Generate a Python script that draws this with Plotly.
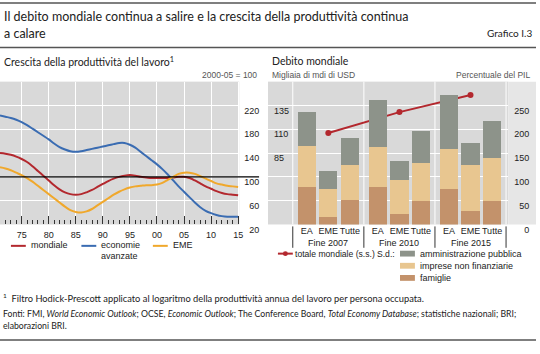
import plotly.graph_objects as go

W, H = 540, 354
def px(x): return x / W
def py(y): return 1 - y / H

# ---------------- data ----------------
years = list(range(1971, 2016))
mondiale = [140, 139, 137, 134, 130, 125, 118, 110, 102, 94,
            86, 79, 74, 71, 70, 71, 74, 78, 83, 88,
            93, 97, 100, 102, 103, 102, 100, 99, 98, 98,
            98, 98, 99, 100, 100, 98, 94, 89, 84, 80,
            76, 73, 71, 70, 69]
avanzate = [203, 201, 199, 196, 192, 187, 181, 175, 169, 163,
            156, 150, 146, 143, 142, 143, 145, 147, 149, 151,
            153, 155, 157, 157, 154, 149, 142, 135, 128, 121,
            113, 104, 94, 84, 75, 66, 57, 49, 43, 39,
            36, 34, 33, 33, 33]
eme = [116, 114, 111, 107, 103, 98, 92, 85, 78, 71,
       64, 57, 50, 44, 41, 40, 42, 46, 52, 58,
       64, 70, 75, 79, 82, 84, 85, 86, 86, 87,
       90, 95, 100, 105, 107, 107, 105, 101, 97, 93,
       89, 87, 85, 84, 83]
year_ticks = [1975, 1980, 1985, 1990, 1995, 2000, 2005, 2010, 2015]
year_labels = ["75", "80", "85", "90", "95", "00", "05", "10", "15"]
left_yticks = [20, 60, 100, 140, 180, 220]

groups = ["Fine 2007", "Fine 2010", "Fine 2015"]
subcats = ["EA", "EME", "Tutte"]
famiglie = [80, 17, 53, 80, 22, 51, 75, 30, 50]
imprese = [85, 59, 72, 84, 73, 79, 84, 96, 90]
amministrazione = [71, 38, 57, 98, 40, 68, 114, 46, 78]
totale_mondiale = [106, 128, 146]
debt_left_ticks = [85, 110, 135]
debt_right_ticks = [0, 50, 100, 150, 200, 250]

# ---------------- styles ----------------
C_RED, C_BLUE, C_YEL = "#b3282e", "#3a6cb2", "#f0a82c"
C_GOV, C_IMP, C_FAM = "#8d938a", "#e8c690", "#c3926b"
BG = "#d9d9d9"
TXT = "#222222"
TF = "Liberation Sans, Arial, sans-serif"
HF = "Lato, Open Sans, sans-serif"
FS = "\u2007"  # figure space, used to right-align tick labels

def rpad(vals, n=3):
    return [FS * (n - len(str(v))) + str(v) for v in vals]

GAP = 3.3
pos = [g * GAP + i for g in range(len(groups)) for i in range(len(subcats))]
sub_labels = [s for g in groups for s in subcats]
line_x = [g * GAP + 1 for g in range(len(groups))]
seps = [-0.65] + [g * GAP + 2.65 for g in range(len(groups))]

fig = go.Figure()

# left panel lines
for vals, col in [(mondiale, C_RED), (avanzate, C_BLUE), (eme, C_YEL)]:
    fig.add_trace(go.Scatter(x=years, y=vals, mode="lines",
                             line=dict(color=col, width=2, shape="spline"),
                             xaxis="x", yaxis="y", showlegend=False))

# right panel bars
for vals, col in [(famiglie, C_FAM), (imprese, C_IMP), (amministrazione, C_GOV)]:
    fig.add_trace(go.Bar(x=pos, y=vals, marker=dict(color=col, line=dict(width=0)),
                         width=0.85, xaxis="x2", yaxis="y3", showlegend=False))

fig.add_trace(go.Scatter(x=line_x, y=totale_mondiale, mode="lines+markers",
                         line=dict(color=C_RED, width=2),
                         marker=dict(color=C_RED, size=6),
                         xaxis="x2", yaxis="y2", showlegend=False))

top, bot = 84, 231
fig.update_layout(
    width=W, height=H, margin=dict(l=0, r=0, t=0, b=0),
    paper_bgcolor="white", plot_bgcolor=BG, barmode="stack", bargap=0,
    xaxis=dict(domain=[0, px(241)], range=[1971, 2015.2],
               tickvals=year_ticks, ticktext=year_labels, tickangle=0,
               ticks="inside", ticklen=8, tickcolor="#333", tickwidth=1,
               minor=dict(ticks="inside", ticklen=4, dtick=1, tick0=1971,
                          tickcolor="#333", showgrid=False),
               showgrid=True, gridcolor="white", gridwidth=1,
               zeroline=False, showline=False, ticklabelstandoff=4,
               tickfont=dict(family=TF, size=9, color=TXT)),
    yaxis=dict(domain=[py(bot), py(top)], range=[20, 260], side="right",
               tickvals=left_yticks, ticktext=rpad(left_yticks),
               showgrid=True, gridcolor="white",
               zeroline=False, showline=False, ticks="",
               ticklabelshift=5, ticklabelstandoff=4,
               tickfont=dict(family=TF, size=9, color=TXT)),
    xaxis2=dict(domain=[px(270), px(512)], range=[-1.8, 9.35],
                tickvals=pos, ticktext=sub_labels, tickangle=0, showgrid=False,
                zeroline=False, showline=False, ticks="",
                tickfont=dict(family=TF, size=9, color=TXT)),
    yaxis2=dict(domain=[py(bot), py(top)], range=[10, 160], anchor="x2",
                side="left", tickvals=debt_left_ticks, showgrid=False,
                zeroline=False, ticklabelposition="inside", ticklabelshift=5,
                ticklabelstandoff=3,
                tickfont=dict(family=TF, size=9, color=TXT)),
    yaxis3=dict(domain=[py(bot), py(top)], range=[0, 300], anchor="x2",
                overlaying="y2", side="right", tickvals=debt_right_ticks,
                ticktext=rpad(debt_right_ticks),
                showgrid=True, gridcolor="white", zeroline=False,
                ticklabelshift=5, ticklabelstandoff=5,
                tickfont=dict(family=TF, size=9, color=TXT)),
)

shapes = []
# rules
for y, w in [(3, 1.5), (49, 1.5), (350, 1.5)]:
    shapes.append(dict(type="line", xref="paper", yref="paper", x0=0, x1=1,
                       y0=py(y), y1=py(y), line=dict(color="#555", width=w)))
# 100 line in left panel
shapes.append(dict(type="line", xref="paper", yref="y", x0=0, x1=px(261),
                   y0=100, y1=100, line=dict(color="black", width=1.2)))
# light strip right of right panel
shapes.append(dict(type="rect", xref="paper", yref="paper", x0=px(512), x1=px(540),
                   y0=py(bot), y1=py(top), fillcolor="#e6e6e6", line=dict(width=0),
                   layer="below"))
# group separators (white inside plot, dark below axis)
for s in seps:
    shapes.append(dict(type="line", xref="x2", yref="paper", x0=s, x1=s,
                       y0=py(bot), y1=py(top), line=dict(color="white", width=1),
                       layer="below"))
    shapes.append(dict(type="line", xref="x2", yref="paper", x0=s, x1=s,
                       y0=py(233), y1=py(255), line=dict(color="#333", width=1)))

ann = []
def text(x, y, s, size=9, anchor="left", family=TF, color=TXT):
    ann.append(dict(x=px(x), y=py(y), xref="paper", yref="paper", text=s,
                    showarrow=False, xanchor=anchor, yanchor="middle",
                    font=dict(family=family, size=size, color=color)))

text(2, 17, "Il debito mondiale continua a salire e la crescita della produttività continua", 12.5, family=HF)
text(2, 34, "a calare", 12.5, family=HF)
text(538, 34, "Grafico I.3", 10, anchor="right", family=HF)
text(2, 63, "Crescita della produttività del lavoro<sup>1</sup>", 10.5, family=HF)
text(272, 63, "Debito mondiale", 10.5, family=HF)
text(261, 77, "2000-05 = 100", 8.5, anchor="right", color="#555")
text(272, 77, "Migliaia di mdi di USD", 8.5, color="#555")
text(536, 77, "Percentuale del PIL", 8.5, anchor="right", color="#555")

for g, name in enumerate(groups):
    ann.append(dict(x=g * GAP + 1, y=py(250), xref="x2", yref="paper", text=name,
                    showarrow=False, xanchor="center", yanchor="middle",
                    font=dict(family=TF, size=9, color=TXT)))

# left legend
for x0, x1, col, lab in [(11, 26, C_RED, "mondiale"), (82, 97, C_BLUE, "economie"),
                         (154, 169, C_YEL, "EME")]:
    shapes.append(dict(type="line", xref="paper", yref="paper", x0=px(x0), x1=px(x1),
                       y0=py(253), y1=py(253), line=dict(color=col, width=2)))
    text(x1 + 3, 252.5, lab)
text(100, 263, "avanzate")

# right legend
shapes.append(dict(type="line", xref="paper", yref="paper", x0=px(280), x1=px(295),
                   y0=py(261), y1=py(261), line=dict(color=C_RED, width=2)))
shapes.append(dict(type="circle", xref="paper", yref="paper", x0=px(285), x1=px(290),
                   y0=py(263.5), y1=py(258.5), fillcolor=C_RED, line=dict(width=0)))
text(295, 261, "totale mondiale (s.s.)", 8.6)
text(378, 261, "S.d.:", 8.6)
for yy, col, lab in [(261, C_GOV, "amministrazione pubblica"),
                     (273.5, C_IMP, "imprese non finanziarie"),
                     (286, C_FAM, "famiglie")]:
    shapes.append(dict(type="rect", xref="paper", yref="paper", x0=px(403), x1=px(418),
                       y0=py(yy + 3), y1=py(yy - 3), fillcolor=col, line=dict(width=0)))
    text(421, yy, lab)

text(1, 307, "<sup>1</sup>  Filtro Hodick-Prescott applicato al logaritmo della produttività annua del lavoro per persona occupata.", 9.3, family=HF)
text(1, 323, "Fonti: FMI, <i>World Economic Outlook</i>; OCSE, <i>Economic Outlook</i>; The Conference Board, <i>Total Economy Database</i>; statistiche nazionali; BRI;", 8.7, family=HF)
text(1, 335, "elaborazioni BRI.", 8.7, family=HF)

fig.update_layout(shapes=shapes, annotations=ann)
fig.write_html("out.html")
